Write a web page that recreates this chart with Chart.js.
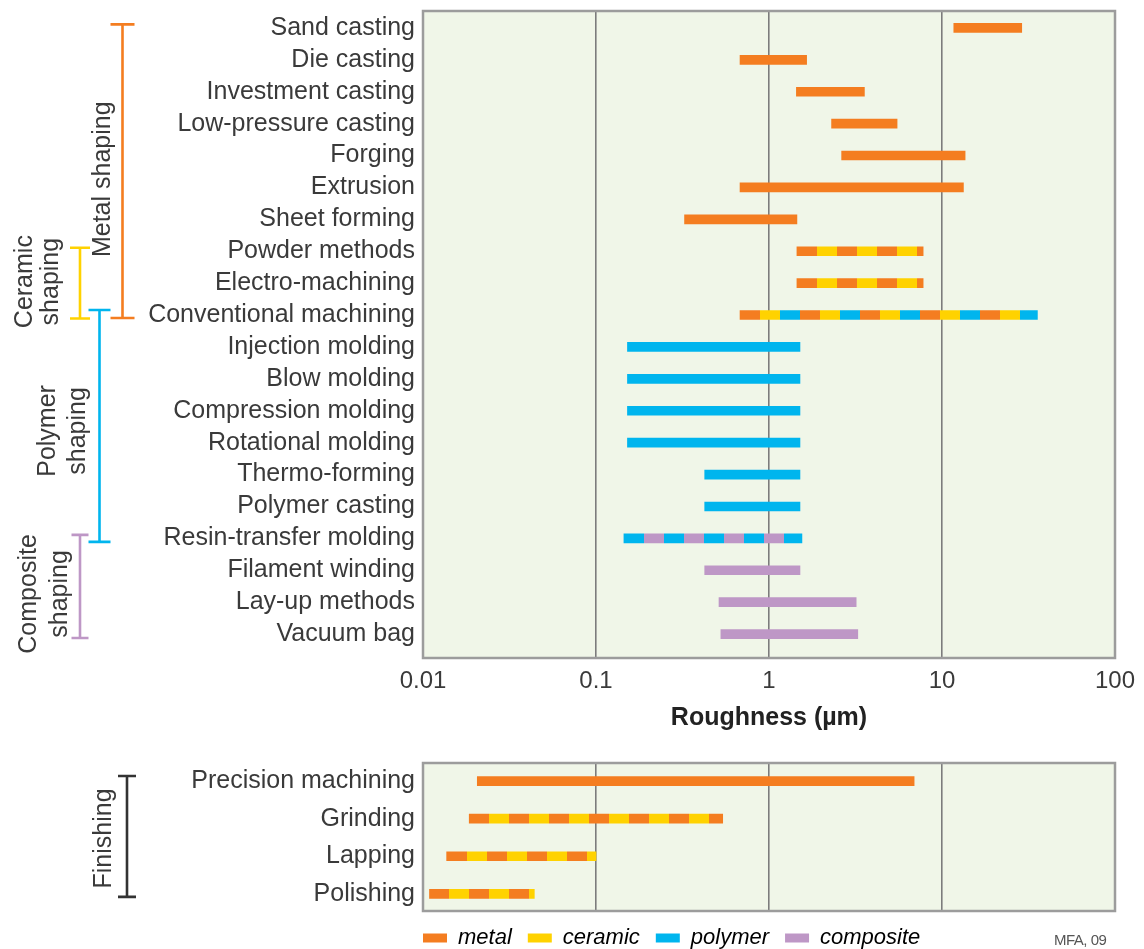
<!DOCTYPE html>
<html>
<head>
<meta charset="utf-8">
<script src="https://cdn.jsdelivr.net/npm/chart.js@4.4.0/dist/chart.umd.min.js"></script>
<style>
html,body{margin:0;padding:0;background:#fff;width:1144px;height:949px;overflow:hidden;position:relative}
#w1{position:absolute;left:0;top:0;width:1144px;height:745px}
#w2{position:absolute;left:0;top:745px;width:1144px;height:214px}
#credit{position:absolute;left:1054px;top:931px;font:15px 'Liberation Sans',Arial,sans-serif;color:#555;letter-spacing:-0.5px}
</style>
</head>
<body>
<div id="w1"><canvas id="c1" width="1144" height="745"></canvas></div>
<div id="w2"><canvas id="c2" width="1144" height="214"></canvas></div>
<div id="credit">MFA, 09</div>
<script>
// ---------- data ----------
const processes = ['Sand casting','Die casting','Investment casting','Low-pressure casting','Forging','Extrusion','Sheet forming','Powder methods','Electro-machining','Conventional machining','Injection molding','Blow molding','Compression molding','Rotational molding','Thermo-forming','Polymer casting','Resin-transfer molding','Filament winding','Lay-up methods','Vacuum bag'];
const roughMin = [11.7, 0.68, 1.44, 2.3, 2.63, 0.68, 0.325, 1.45, 1.45, 0.68, 0.152, 0.152, 0.152, 0.152, 0.425, 0.425, 0.145, 0.425, 0.514, 0.527];
const roughMax = [28.9, 1.65, 3.56, 5.5, 13.6, 13.3, 1.45, 7.78, 7.78, 35.6, 1.51, 1.51, 1.51, 1.51, 1.51, 1.51, 1.55, 1.51, 3.19, 3.26];
const processMaterials = ['metal','metal','metal','metal','metal','metal','metal','metal|ceramic','metal|ceramic','metal|ceramic|polymer','polymer','polymer','polymer','polymer','polymer','polymer','polymer|composite','composite','composite','composite'];

const finishing = ['Precision machining','Grinding','Lapping','Polishing'];
const finishMin = [0.0206, 0.0185, 0.0137, 0.0109];
const finishMax = [6.9, 0.54, 0.1, 0.044];
const finishMaterials = ['metal','metal|ceramic','metal|ceramic','metal|ceramic'];

const materialNames = ['metal','ceramic','polymer','composite'];
const tickValues = [0.01, 0.1, 1, 10, 100];
const tickLabels = ['0.01','0.1','1','10','100'];
const axisTitle = 'Roughness (\u00B5m)';

// ---------- styles ----------
const COLORS = {metal:'#F47D20', ceramic:'#FFD200', polymer:'#00B5EE', composite:'#BE97C6'};
const FONT = "'Liberation Sans', Arial, sans-serif";
const TEXT = '#3a3a3a';
const SEG = 20;
Chart.defaults.font.family = FONT;
Chart.defaults.color = TEXT;

function segFill(mats) {
  return function(ctx) {
    const list = mats[ctx.dataIndex].split('|');
    if (list.length === 1) return COLORS[list[0]];
    const xs = ctx.chart.scales.x;
    const raw = ctx.raw;
    if (!xs || !raw) return COLORS[list[0]];
    const x0 = xs.getPixelForValue(raw.x[0]), x1 = xs.getPixelForValue(raw.x[1]);
    const L = x1 - x0;
    if (!isFinite(L) || L <= 0) return COLORS[list[0]];
    const g = ctx.chart.ctx.createLinearGradient(x0, 0, x1, 0);
    let p = 0, k = 0;
    while (p < L - 0.01) {
      const q = Math.min(p + SEG, L);
      const c = COLORS[list[k % list.length]];
      g.addColorStop(Math.min(1, p / L), c);
      g.addColorStop(Math.min(1, q / L), c);
      p = q; k++;
    }
    return g;
  };
}

const bgFrame = {
  id: 'bgFrame',
  beforeDraw(chart) {
    const a = chart.chartArea, c = chart.ctx;
    c.save(); c.fillStyle = '#F0F6E8';
    c.fillRect(a.left, a.top, a.right - a.left, a.bottom - a.top);
    c.restore();
  },
  afterDraw(chart) {
    const a = chart.chartArea, c = chart.ctx;
    c.save(); c.strokeStyle = '#9c9c9c'; c.lineWidth = 2.5;
    c.strokeRect(a.left, a.top, a.right - a.left, a.bottom - a.top);
    c.restore();
  }
};

// legend starts at the left edge of the plot area
const legendShift = {
  id: 'legendShift',
  afterLayout(chart) {
    const lg = chart.legend;
    if (lg) { const p = lg.options.labels.padding; lg.left -= p; lg.right -= p; }
  }
};

function bracketPlugin(list) {
  return {
    id: 'brackets',
    afterDraw(chart) {
      const ys = chart.scales.y, c = chart.ctx;
      c.save();
      list.forEach(b => {
        const y1 = ys.getPixelForValue(b.from) + b.o1;
        const y2 = ys.getPixelForValue(b.to) + b.o2;
        c.strokeStyle = b.color; c.lineWidth = 2.6; c.lineCap = 'butt';
        c.beginPath();
        c.moveTo(b.x, y1); c.lineTo(b.x, y2);
        c.moveTo(b.x - b.cap, y1); c.lineTo(b.x + b.cap, y1);
        c.moveTo(b.x - b.cap, y2); c.lineTo(b.x + b.cap, y2);
        c.stroke();
        const mid = (y1 + y2) / 2 + b.dy;
        c.fillStyle = TEXT;
        c.font = '25px ' + FONT;
        c.textAlign = 'center'; c.textBaseline = 'alphabetic';
        b.lines.forEach(l => {
          c.save(); c.translate(l.x, mid); c.rotate(-Math.PI / 2);
          c.fillText(l.t, 0, 0); c.restore();
        });
      });
      c.restore();
    }
  };
}

function logAxis(showLabels, height, titleOn) {
  return {
    type: 'logarithmic', position: 'bottom', min: 0.01, max: 100, offset: false,
    afterBuildTicks: s => { s.ticks = tickValues.map(v => ({value: v})); },
    afterFit: s => { s.height = height; s.paddingLeft = 0; s.paddingRight = 0; },
    border: {display: false},
    grid: {
      drawTicks: false, lineWidth: 1.6, offset: false,
      color: ctx => (ctx.tick && (ctx.tick.value === 0.01 || ctx.tick.value === 100)) ? 'rgba(0,0,0,0)' : '#7c7c7c'
    },
    ticks: {
      display: showLabels, padding: 9, color: TEXT, font: {size: 24},
      callback: v => tickLabels[tickValues.indexOf(v)]
    },
    title: {display: titleOn, text: axisTitle, color: '#222', font: {size: 25, weight: 'bold'}, padding: {top: 0, bottom: 12}}
  };
}

function catAxis(labels, min, max) {
  return {
    type: 'linear', reverse: true, min: min, max: max, bounds: 'data', offset: false,
    afterBuildTicks: s => { s.ticks = labels.map((_, i) => ({value: i})); },
    afterFit: s => { s.width = 423; s.paddingTop = 0; s.paddingBottom = 0; },
    border: {display: false},
    grid: {display: false, drawTicks: false, offset: false},
    ticks: {autoSkip: false, padding: 8, color: TEXT, font: {size: 25}, callback: v => labels[v]}
  };
}

// ---------- chart 1 ----------
new Chart(document.getElementById('c1'), {
  type: 'bar',
  data: {
    datasets: [{
      data: processes.map((p, i) => ({x: [roughMin[i], roughMax[i]], y: i})),
      backgroundColor: segFill(processMaterials),
      borderWidth: 0, borderSkipped: false, barThickness: 9
    }]
  },
  options: {
    indexAxis: 'y', responsive: false, animation: false, events: [],
    layout: {padding: {left: 0, right: 29, top: 11, bottom: 0}},
    plugins: {legend: {display: false}, tooltip: {enabled: false}},
    scales: {
      x: logAxis(true, 87, true),
      y: catAxis(processes, -0.53, 19.75)
    }
  },
  plugins: [bgFrame, bracketPlugin([
    {from: 0, to: 9, o1: -3.5, o2: 3, x: 122.5, cap: 12, color: '#F47D20', dy: 8, lines: [{t: 'Metal shaping', x: 110}]},
    {from: 7, to: 9, o1: -3.5, o2: 3.5, x: 80, cap: 10, color: '#FFD200', dy: -1.5, lines: [{t: 'Ceramic', x: 32}, {t: 'shaping', x: 58}]},
    {from: 9, to: 16, o1: -5, o2: 3.5, x: 99.5, cap: 11, color: '#00B5EE', dy: 5, lines: [{t: 'Polymer', x: 55}, {t: 'shaping', x: 85}]},
    {from: 16, to: 19, o1: -3.5, o2: 4, x: 80, cap: 8.5, color: '#BE97C6', dy: 7.5, lines: [{t: 'Composite', x: 36}, {t: 'shaping', x: 67}]}
  ])]
});

// ---------- chart 2 ----------
new Chart(document.getElementById('c2'), {
  type: 'bar',
  data: {
    datasets: [{
      data: finishing.map((p, i) => ({x: [finishMin[i], finishMax[i]], y: i})),
      backgroundColor: segFill(finishMaterials),
      borderWidth: 0, borderSkipped: false, barThickness: 9
    }]
  },
  options: {
    indexAxis: 'y', responsive: false, animation: false, events: [],
    layout: {padding: {left: 0, right: 29, top: 18, bottom: 0}},
    plugins: {
      tooltip: {enabled: false},
      legend: {
        display: true, position: 'bottom', align: 'start', fullSize: false,
        labels: {
          boxWidth: 24, boxHeight: 9, padding: 16, color: TEXT,
          font: {size: 22, style: 'italic'},
          generateLabels: () => materialNames.map(m => ({
            text: m, fillStyle: COLORS[m], strokeStyle: COLORS[m], lineWidth: 0, hidden: false
          }))
        }
      }
    },
    scales: {
      x: logAxis(false, 0, false),
      y: catAxis(finishing, -0.48, 3.455)
    }
  },
  plugins: [bgFrame, legendShift, bracketPlugin([
    {from: 0, to: 3, o1: -5, o2: 3, x: 127, cap: 9, color: '#333333', dy: 2, lines: [{t: 'Finishing', x: 111}]}
  ])]
});
</script>
</body>
</html>
